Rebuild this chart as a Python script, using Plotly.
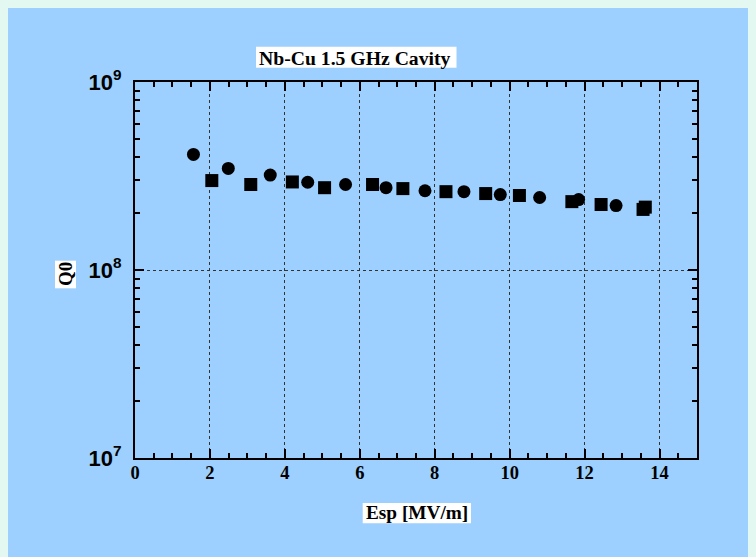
import plotly.graph_objects as go

# ---- data ----
circle_esp = [1.56, 2.49, 3.61, 4.61, 5.62, 6.70, 7.74, 8.78, 9.75, 10.80, 11.84, 12.84]
circle_q0 = [4.12e8, 3.47e8, 3.20e8, 2.93e8, 2.85e8, 2.74e8, 2.64e8, 2.61e8, 2.52e8, 2.43e8, 2.37e8, 2.20e8]

square_esp = [2.05, 3.09, 4.20, 5.06, 6.34, 7.15, 8.30, 9.36, 10.26, 11.66, 12.44, 13.56, 13.62]
square_q0 = [2.99e8, 2.85e8, 2.94e8, 2.74e8, 2.85e8, 2.71e8, 2.61e8, 2.55e8, 2.49e8, 2.31e8, 2.23e8, 2.10e8, 2.16e8]

y_tickvals = [1e7, 1e8, 1e9]
y_ticktext = ["10<sup>7</sup>", "10<sup>8</sup>", "10<sup>9</sup>"]
y_minor = [m * 10 ** e for e in (7, 8) for m in range(2, 10)]

title_text = "Nb-Cu 1.5 GHz Cavity"
x_title = "Esp [MV/m]"
y_title = "Q0"

# ---- layout geometry (page pixels; the page body adds an 8 px offset) ----
OFF = 8
W, H = 756 - OFF, 557 - OFF
ML, MR, MT, MB = 135 - OFF, 59, 82 - OFF, 99
PW, PH = W - ML - MR, H - MT - MB


def px(x):
    return (x - OFF - ML) / PW


def py(y):
    return (H - MB - (y - OFF)) / PH


BLUE = "#9dd0fe"
MINT = "#e2f8f0"
SERIF = "Liberation Serif, Times New Roman, serif"
SANS = "Liberation Sans, Arial, sans-serif"

fig = go.Figure()
fig.add_trace(go.Scatter(x=square_esp, y=square_q0, mode="markers",
                         marker=dict(symbol="square", size=13, color="black", line=dict(width=0)),
                         showlegend=False))
fig.add_trace(go.Scatter(x=circle_esp, y=circle_q0, mode="markers",
                         marker=dict(symbol="circle", size=13, color="black", line=dict(width=0)),
                         showlegend=False))

shapes = [
    dict(type="rect", xref="paper", yref="paper", x0=px(256), x1=px(456.5), y0=py(67.7), y1=py(46.7),
         fillcolor="white", line=dict(width=0), layer="below"),
    dict(type="rect", xref="paper", yref="paper", x0=px(362.7), x1=px(471), y0=py(523.3), y1=py(503),
         fillcolor="white", line=dict(width=0), layer="below"),
    dict(type="rect", xref="paper", yref="paper", x0=px(55), x1=px(76), y0=py(288.3), y1=py(260.7),
         fillcolor="white", line=dict(width=0), layer="below"),
]

annotations = [
    dict(text="<b>" + title_text + "</b>", xref="paper", yref="paper", x=px(256.5), y=py(57.5),
         xanchor="left", yanchor="middle", showarrow=False, font=dict(family=SERIF, size=19.7, color="black")),
    dict(text="<b>" + x_title + "</b>", xref="paper", yref="paper", x=px(416.8), y=py(513),
         xanchor="center", yanchor="middle", showarrow=False, font=dict(family=SERIF, size=19.3, color="black")),
    dict(text="<b>" + y_title + "</b>", xref="paper", yref="paper", x=px(65.5), y=py(274.5),
         xanchor="center", yanchor="middle", textangle=-90, showarrow=False,
         font=dict(family=SERIF, size=19, color="black")),
]

fig.update_layout(
    width=W, height=H,
    margin=dict(l=ML, r=MR, t=MT, b=MB, pad=0),
    paper_bgcolor=BLUE,
    plot_bgcolor="rgba(0,0,0,0)",
    shapes=shapes,
    annotations=annotations,
    showlegend=False,
)

fig.update_xaxes(
    range=[0, 15], tick0=0, dtick=2,
    ticks="inside", ticklen=9, tickwidth=1.5, tickcolor="black",
    showline=True, linecolor="black", linewidth=2, mirror="ticks",
    showgrid=True, gridcolor="#333333", gridwidth=1, griddash="dot",
    zeroline=False,
    minor=dict(dtick=0.5, ticks="inside", ticklen=5, tickwidth=1.5, tickcolor="black", showgrid=False),
    tickfont=dict(family=SERIF, size=18.5, color="black", weight="bold"),
    ticklabelstandoff=-3,
)

fig.update_yaxes(
    type="log", range=[7, 9],
    tickvals=y_tickvals, ticktext=y_ticktext,
    ticks="inside", ticklen=9, tickwidth=1.5, tickcolor="black",
    showline=True, linecolor="black", linewidth=2, mirror="ticks",
    showgrid=True, gridcolor="#333333", gridwidth=1, griddash="dot",
    zeroline=False,
    minor=dict(tickvals=y_minor, ticks="inside", ticklen=5, tickwidth=1.5, tickcolor="black", showgrid=False),
    tickfont=dict(family=SANS, size=22, color="black", weight="bold"),
    ticklabelstandoff=7,
)

fig.write_html(
    "out.html",
    post_script="document.body.style.backgroundColor='" + MINT + "';",
)
